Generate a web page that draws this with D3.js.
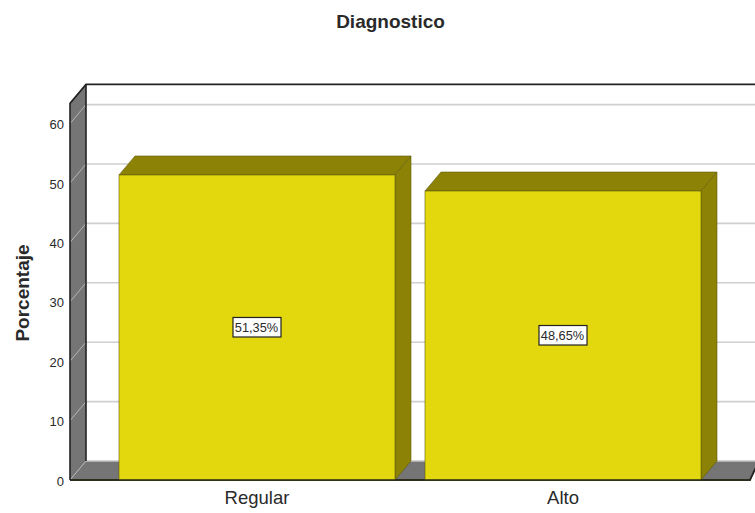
<!DOCTYPE html>
<html>
<head>
<meta charset="utf-8">
<script src="https://cdn.jsdelivr.net/npm/d3@7/dist/d3.min.js"></script>
<style>
html,body{margin:0;padding:0;background:#fff;overflow:hidden}
svg{display:block}
text{font-family:"Liberation Sans",Arial,sans-serif;fill:#2a2a2a}
</style>
</head>
<body>
<script>
// Diagnostico: percentage bars on a pseudo-3D wall and floor
const categories = ["Regular", "Alto"];
const percentages = [51.35, 48.65];
const valueLabels = ["51,35%", "48,65%"];
const yTicks = [0, 10, 20, 30, 40, 50, 60];
const yMax = 63.4;

const W = 755, H = 513;
const depthX = 16, depthY = -19;
const baseY = 480, wallX = 70;

const colors = {
  bar: "#e3d80d", barDark: "#8c8206", barEdge: "#5f5b0c",
  wall: "#757575", grid: "#cfcfcf", axis: "#222222"
};

const svg = d3.select("body").append("svg").attr("width", W).attr("height", H);

const y = d3.scaleLinear().domain([0, yMax]).range([baseY, baseY - yMax * 5.94]);
const x = d3.scaleBand().domain(categories).range([104, 716])
  .paddingInner(0.098).paddingOuter(0.049);

const pts = a => a.map(p => p.join(",")).join(" ");
const topY = y(yMax);

// Plot back panel
svg.append("rect")
  .attr("x", wallX + depthX).attr("y", topY + depthY)
  .attr("width", W - wallX - depthX).attr("height", baseY - topY)
  .attr("fill", "#fff");

// Horizontal gridlines on the back panel
svg.append("g").selectAll("line").data(yTicks.filter(d => d > 0)).join("line")
  .attr("x1", wallX + depthX).attr("x2", W)
  .attr("y1", d => y(d) + depthY).attr("y2", d => y(d) + depthY)
  .attr("stroke", colors.grid).attr("stroke-width", 1.6);

// Side wall
svg.append("polygon")
  .attr("points", pts([[wallX, topY], [wallX + depthX, topY + depthY], [wallX + depthX, baseY + depthY], [wallX, baseY]]))
  .attr("fill", colors.wall);

// Floor
svg.append("polygon")
  .attr("points", pts([[wallX, baseY], [wallX + depthX, baseY + depthY], [W + 4, baseY + depthY], [W - 5, baseY]]))
  .attr("fill", colors.wall);
svg.append("line")
  .attr("x1", wallX + depthX).attr("x2", W)
  .attr("y1", baseY + depthY).attr("y2", baseY + depthY)
  .attr("stroke", "#c4c4c4").attr("stroke-width", 1.4);

// Gridline continuation across the side wall
svg.append("g").selectAll("line").data(yTicks).join("line")
  .attr("x1", wallX).attr("x2", wallX + depthX)
  .attr("y1", d => y(d)).attr("y2", d => y(d) + depthY)
  .attr("stroke", "#b5b5b5").attr("stroke-width", 1);

// Wall and frame outlines
const frame = svg.append("g").attr("fill", "none").attr("stroke", colors.axis);
frame.append("path").attr("stroke-width", 1.6)
  .attr("d", d3.line()([[wallX, baseY], [wallX, topY], [wallX + depthX, topY + depthY], [W, topY + depthY]]));
frame.append("line").attr("stroke-width", 1.6)
  .attr("x1", wallX + depthX).attr("x2", wallX + depthX)
  .attr("y1", topY + depthY).attr("y2", baseY + depthY);
frame.append("path").attr("stroke-width", 1.8)
  .attr("d", d3.line()([[wallX, baseY], [W - 5, baseY], [W + 4, baseY + depthY]]));

// Bars: front, top and right faces
const bars = svg.append("g").selectAll("g").data(categories).join("g");
const bx = d => x(d);
const val = (d, i) => percentages[i];

bars.append("polygon")
  .attr("points", (d, i) => {
    const l = bx(d), r = l + x.bandwidth(), t = y(val(d, i));
    return pts([[l, t], [l + depthX, t + depthY], [r + depthX, t + depthY], [r, t]]);
  })
  .attr("fill", colors.barDark).attr("stroke", colors.barEdge).attr("stroke-width", 0.6);

bars.append("polygon")
  .attr("points", (d, i) => {
    const r = bx(d) + x.bandwidth(), t = y(val(d, i));
    return pts([[r, t], [r + depthX, t + depthY], [r + depthX, baseY + depthY], [r, baseY]]);
  })
  .attr("fill", colors.barDark).attr("stroke", colors.barEdge).attr("stroke-width", 0.6);

bars.append("rect")
  .attr("x", d => bx(d))
  .attr("y", (d, i) => y(val(d, i)))
  .attr("width", x.bandwidth())
  .attr("height", (d, i) => baseY - y(val(d, i)))
  .attr("fill", colors.bar).attr("stroke", colors.barEdge).attr("stroke-width", 0.6);

// Baseline redrawn over the bars
svg.append("line")
  .attr("x1", wallX).attr("x2", W - 5)
  .attr("y1", baseY).attr("y2", baseY)
  .attr("stroke", "#33321a").attr("stroke-width", 1.4);

// Value labels in boxes
const labels = svg.append("g").selectAll("g").data(categories).join("g")
  .attr("transform", (d, i) =>
    `translate(${x(d) + x.bandwidth() / 2},${(y(val(d, i)) + baseY) / 2})`);
labels.append("rect")
  .attr("x", -24).attr("y", -10).attr("width", 48).attr("height", 19.5)
  .attr("fill", "#fff").attr("stroke", "#222").attr("stroke-width", 1.2);
labels.append("text")
  .attr("text-anchor", "middle").attr("x", -0.5).attr("y", 4.5).attr("font-size", 12.8)
  .text((d, i) => valueLabels[i]);

// Value axis labels
svg.append("g").selectAll("text").data(yTicks).join("text")
  .attr("x", 64).attr("y", d => y(d) + 5.5)
  .attr("text-anchor", "end").attr("font-size", 13)
  .text(d => d);

// Category labels
svg.append("g").selectAll("text").data(categories).join("text")
  .attr("x", d => x(d) + x.bandwidth() / 2).attr("y", 504)
  .attr("text-anchor", "middle").attr("font-size", 18.5)
  .text(d => d);

// Titles
svg.append("text").attr("x", 390.5).attr("y", 28)
  .attr("text-anchor", "middle").attr("font-size", 19).attr("font-weight", "bold")
  .attr("fill", "#111").text("Diagnostico");
svg.append("text").attr("transform", "translate(29,293) rotate(-90)")
  .attr("text-anchor", "middle").attr("font-size", 19).attr("font-weight", "bold")
  .attr("fill", "#111").text("Porcentaje");
</script>
</body>
</html>
